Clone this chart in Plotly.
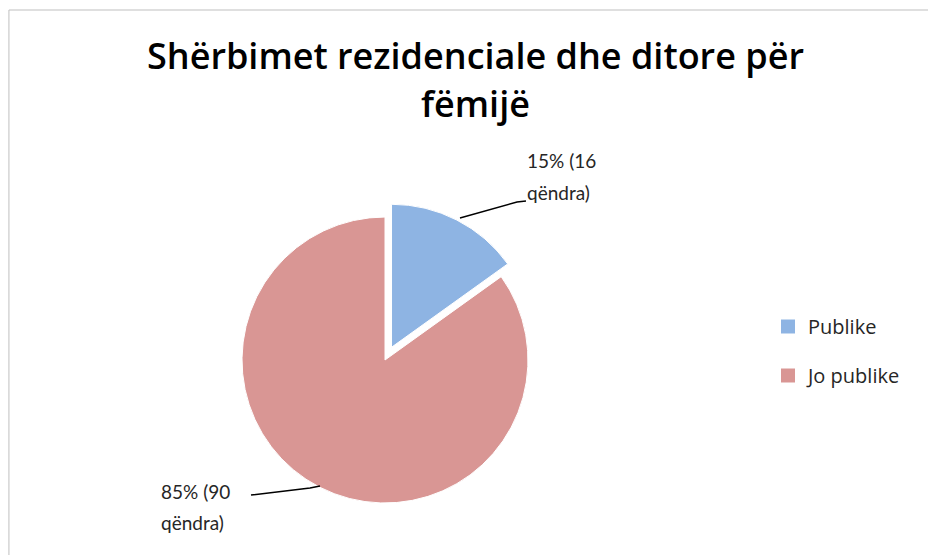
import plotly.graph_objects as go

W, H = 936, 555
OFF = 8  # page body margin

# ---- data ----
categories = ["Publike", "Jo publike"]
counts = [16, 90]
unit_word = "qëndra"
colors = ["#8EB4E3", "#D99694"]
title_lines = ["Shërbimet rezidenciale dhe ditore për", "fëmijë"]

total = sum(counts)
pcts = [round(100 * c / total) for c in counts]


def px(x):
    return (x - OFF) / W


def py(y):
    return 1 - (y - OFF) / H


FONT = "Lato, 'Open Sans', sans-serif"
TFONT = "'Open Sans', sans-serif"
TXT = "#262626"

fig = go.Figure()

# pie: centre (385,360), radius 143 -> domain half-size r*(1+pull)
cx, cy, r, pull = 385, 360, 143, 0.1
half = r * (1 + pull)
fig.add_trace(go.Pie(
    labels=categories,
    values=counts,
    sort=False,
    direction="clockwise",
    rotation=0,
    pull=[pull, 0],
    marker=dict(colors=colors, line=dict(color="white", width=1)),
    textinfo="none",
    hoverinfo="label+value+percent",
    showlegend=False,
    domain=dict(x=[px(cx - half), px(cx + half)], y=[py(cy + half), py(cy - half)]),
))

# legend proxies (square swatches) so the legend spacing can match
for i, (lab, col) in enumerate(zip(categories, colors)):
    fig.add_trace(go.Scatter(
        x=[None], y=[None], mode="markers", name=lab,
        marker=dict(symbol="square", size=14, color=col),
        legendgroup=f"g{i}", showlegend=True, hoverinfo="skip",
    ))

annotations = []
# title (two lines)
annotations.append(dict(text=title_lines[0], x=px(475), y=py(55), xref="paper", yref="paper",
                        xanchor="center", yanchor="middle", showarrow=False,
                        font=dict(family=TFONT, size=36, weight=600, color="#000000")))
annotations.append(dict(text=title_lines[1], x=px(475), y=py(103), xref="paper", yref="paper",
                        xanchor="center", yanchor="middle", showarrow=False,
                        font=dict(family=TFONT, size=36, weight=600, color="#000000")))

# data labels (two lines each)
label_pos = [(525, 160, 193), (159, 491, 522)]
for (lx, y1, y2), p, c in zip(label_pos, pcts, counts):
    annotations.append(dict(text=f"{p}% ({c}", x=px(lx), y=py(y1), xref="paper", yref="paper",
                            xanchor="left", yanchor="middle", showarrow=False,
                            font=dict(family=FONT, size=19, color=TXT)))
    annotations.append(dict(text=f"{unit_word})", x=px(lx), y=py(y2), xref="paper", yref="paper",
                            xanchor="left", yanchor="middle", showarrow=False,
                            font=dict(family=FONT, size=19, color=TXT)))

shapes = [
    # chart frame
    dict(type="rect", xref="paper", yref="paper", x0=0.001, x1=px(W + 20), y0=py(H + 20), y1=py(10),
         line=dict(color="#BFBFBF", width=1), fillcolor="rgba(0,0,0,0)", layer="below"),
    # leader lines
    dict(type="path", xref="paper", yref="paper",
         path=f"M {px(460)} {py(218)} L {px(517)} {py(202)} L {px(526)} {py(201)}",
         line=dict(color="black", width=1.5)),
    dict(type="path", xref="paper", yref="paper",
         path=f"M {px(251)} {py(495)} L {px(310)} {py(488)} L {px(320)} {py(486)}",
         line=dict(color="black", width=1.5)),
]

fig.update_layout(
    width=W, height=H,
    margin=dict(l=0, r=0, t=0, b=0),
    paper_bgcolor="white", plot_bgcolor="white",
    xaxis=dict(visible=False), yaxis=dict(visible=False),
    showlegend=True,
    legend=dict(x=px(768), y=py(307), xanchor="left", yanchor="top",
                traceorder="grouped", tracegroupgap=20,
                font=dict(family=TFONT, size=20, color=TXT),
                bgcolor="rgba(0,0,0,0)"),
    annotations=annotations,
    shapes=shapes,
)

fig.write_html("out.html")
